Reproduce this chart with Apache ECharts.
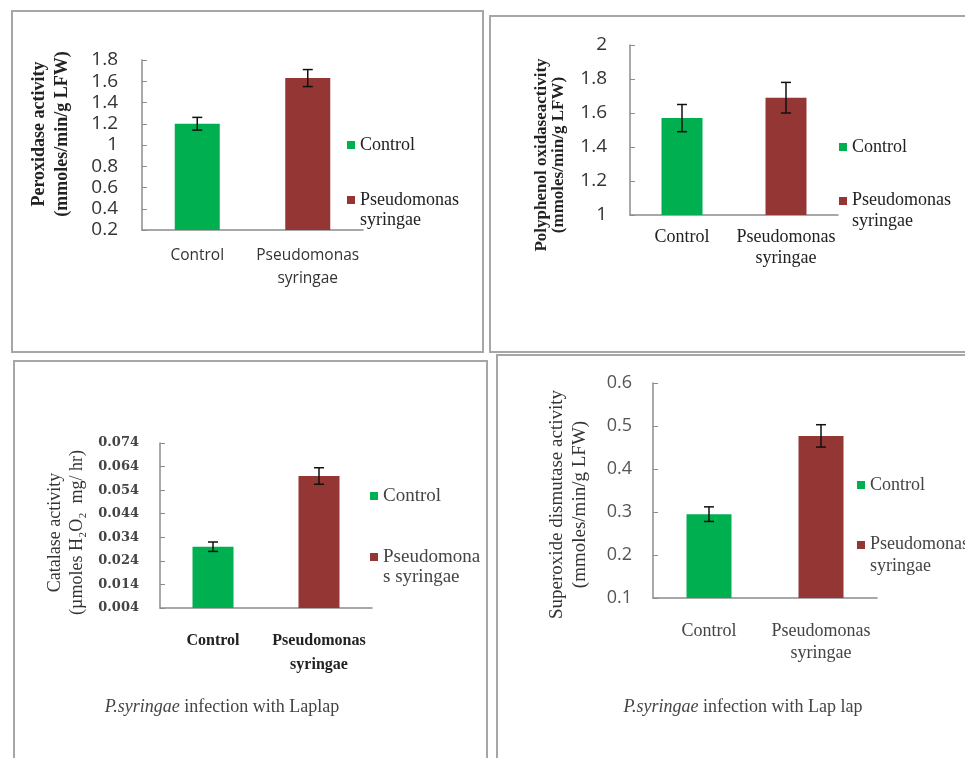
<!DOCTYPE html>
<html>
<head>
<meta charset="utf-8">
<script src="https://cdn.jsdelivr.net/npm/echarts@6/dist/echarts.min.js"></script>
<style>
  html, body { margin: 0; padding: 0; background: #fff; }
  #main { width: 965px; height: 758px; }
</style>
</head>
<body>
<div id="main"></div>
<script>
// categories
var categories = ['Control', 'Pseudomonas syringae'];

// peroxidase (top left)
var peroxMean = [1.20, 1.63];
var peroxErr = [0.06, 0.08];
// polyphenol oxidase (top right)
var ppoMean = [1.57, 1.69];
var ppoErr = [0.08, 0.09];
// catalase (bottom left)
var catMean = [0.030, 0.060];
var catErr = [0.002, 0.0035];
// superoxide dismutase (bottom right)
var sodMean = [0.295, 0.477];
var sodErr = [0.017, 0.026];

var GREEN = '#00b050';
var RED = '#943634';
var serif = '"Liberation Serif", "Times New Roman", serif';
var sans = '"Open Sans", "Liberation Sans", sans-serif';

var chartDom = document.getElementById('main');
var myChart = echarts.init(chartDom);

// icons: square placed inside a 28px tall box so the multi-line label lines up
var iconMid = 'path://M0 0H8 M0 10H8V18H0Z M0 28H8';
var iconTop = 'path://M0 0H8V8H0Z M0 28H8';

// one panel = grid + axes + two bar series + error bars
var panels = [
  { mean: peroxMean, err: peroxErr, grid: { left: 142, top: 60, width: 221, height: 170 },
    min: 0.2, max: 1.8, interval: 0.2, digits: 1, barWidth: 45, tickMargin: 24,
    yName: 'Peroxidase activity\n(mmoles/min/g LFW)', nameGap: 68, namePad: [0, 0, 0, 22],
    nameStyle: { fontFamily: serif, fontWeight: 'bold', fontSize: 18, lineHeight: 23, color: '#222' },
    tickStyle: { fontFamily: sans, fontSize: 19, color: '#333' },
    catStyle: { fontFamily: sans, fontSize: 15.5, lineHeight: 23, color: '#333' }, catMargin: 14,
    legend: { left: 347, c1: 145, c2: 200, size: 18, lh: 20, color: '#222', pseudo: 'Pseudomonas\nsyringae' } },
  { mean: ppoMean, err: ppoErr, grid: { left: 630, top: 45, width: 208, height: 170 },
    min: 1, max: 2, interval: 0.2, digits: 1, barWidth: 41, tickMargin: 23,
    yName: 'Polyphenol oxidaseactivity\n(mmoles/min/g LFW)', nameGap: 63, namePad: [0, 50, 0, 0],
    nameStyle: { fontFamily: serif, fontWeight: 'bold', fontSize: 17, lineHeight: 17, color: '#222' },
    tickStyle: { fontFamily: sans, fontSize: 19, color: '#333' },
    catStyle: { fontFamily: serif, fontSize: 18, lineHeight: 21, color: '#222' }, catMargin: 12,
    legend: { left: 839, c1: 147, c2: 201, size: 18, lh: 21, color: '#222', pseudo: 'Pseudomonas\nsyringae' } },
  { mean: catMean, err: catErr, grid: { left: 160, top: 443, width: 212, height: 165 },
    min: 0.004, max: 0.074, interval: 0.01, digits: 3, barWidth: 41, tickMargin: 21,
    yName: 'Catalase activity\n(\u00b5moles H\u2082O\u2082  mg/ hr)', nameGap: 72, namePad: [0, 14, 0, 0],
    nameStyle: { fontFamily: serif, fontSize: 18, lineHeight: 22, color: '#333' },
    tickStyle: { fontFamily: '"DejaVu Serif", serif', fontSize: 13, fontWeight: 'bold', color: '#444' },
    catStyle: { fontFamily: serif, fontWeight: 'bold', fontSize: 16, lineHeight: 24, color: '#222' }, catMargin: 21,
    legend: { left: 370, c1: 496, c2: 557, size: 19, lh: 20, color: '#444', pseudo: 'Pseudomona\ns syringae' } },
  { mean: sodMean, err: sodErr, grid: { left: 653, top: 383, width: 224, height: 215 },
    min: 0.1, max: 0.6, interval: 0.1, digits: 1, barWidth: 45, tickMargin: 21,
    yName: 'Superoxide dismutase activity\n(mmoles/min/g LFW)', nameGap: 61, namePad: [0, 28, 0, 0],
    nameStyle: { fontFamily: serif, fontSize: 19, lineHeight: 23, color: '#333' },
    tickStyle: { fontFamily: sans, fontSize: 18, color: '#555' },
    catStyle: { fontFamily: serif, fontSize: 18, lineHeight: 22, color: '#444' }, catMargin: 22,
    legend: { left: 857, c1: 485, c2: 545, size: 18, lh: 22, color: '#444', pseudo: 'Pseudomonas\nsyringae' } }
];

var grids = [], xAxes = [], yAxes = [], series = [], legends = [];

panels.forEach(function (p, i) {
  grids.push(p.grid);
  xAxes.push({
    type: 'category', gridIndex: i, data: categories,
    axisLine: { lineStyle: { color: '#8c8c8c', width: 1.5 } },
    axisTick: { inside: true, length: 4, lineStyle: { color: '#8c8c8c' } },
    axisLabel: Object.assign({
      interval: 0, hideOverlap: false,
      margin: p.catMargin,
      formatter: function (v) { return v.replace(' ', '\n'); }
    }, p.catStyle)
  });
  yAxes.push({
    type: 'value', gridIndex: i, min: p.min, max: p.max, interval: p.interval,
    name: p.yName, nameLocation: 'middle', nameRotate: 90, nameGap: p.nameGap,
    nameTextStyle: Object.assign({ padding: p.namePad }, p.nameStyle),
    axisLine: { show: true, lineStyle: { color: '#8c8c8c', width: 1.5 } },
    axisTick: { show: true, inside: true, length: 5, lineStyle: { color: '#8c8c8c' } },
    splitLine: { show: false },
    axisLabel: Object.assign({
      margin: p.tickMargin,
      formatter: function (v) { return p.digits === 3 ? v.toFixed(3) : String(+v.toFixed(1)); }
    }, p.tickStyle)
  });

  series.push({
    name: 'Control', type: 'bar', xAxisIndex: i, yAxisIndex: i,
    barWidth: p.barWidth, barGap: '-100%',
    itemStyle: { color: GREEN },
    data: [p.mean[0], '-']
  });
  series.push({
    name: 'Pseudomonas syringae', type: 'bar', xAxisIndex: i, yAxisIndex: i,
    barWidth: p.barWidth, barGap: '-100%',
    itemStyle: { color: RED },
    data: ['-', p.mean[1]]
  });
  // error bars
  series.push({
    type: 'custom', xAxisIndex: i, yAxisIndex: i, silent: true, z: 10,
    data: p.mean.map(function (m, k) { return [k, m - p.err[k], m + p.err[k]]; }),
    renderItem: function (params, api) {
      var lo = api.coord([api.value(0), api.value(1)]);
      var hi = api.coord([api.value(0), api.value(2)]);
      var w = 5;
      var st = { stroke: '#111', lineWidth: 1.5 };
      return {
        type: 'group',
        children: [
          { type: 'line', shape: { x1: hi[0], y1: hi[1], x2: lo[0], y2: lo[1] }, style: st },
          { type: 'line', shape: { x1: hi[0] - w, y1: hi[1], x2: hi[0] + w, y2: hi[1] }, style: st },
          { type: 'line', shape: { x1: lo[0] - w, y1: lo[1], x2: lo[0] + w, y2: lo[1] }, style: st }
        ]
      };
    }
  });

  var lg = p.legend;
  var ts = { fontFamily: serif, fontSize: lg.size, lineHeight: lg.lh, color: lg.color };
  legends.push({
    left: lg.left, top: lg.c1 - 14, padding: 0, itemWidth: 8, itemHeight: 28,
    selectedMode: false, textStyle: ts,
    data: [{ name: 'Control', icon: iconMid }]
  });
  legends.push({
    left: lg.left, top: lg.c2 - 4 - (lg.lh * 2 - 28) / 2, padding: 0, itemWidth: 8, itemHeight: 28,
    selectedMode: false, textStyle: ts,
    formatter: (function (t) { return function () { return t; }; })(lg.pseudo),
    data: [{ name: 'Pseudomonas syringae', icon: iconTop }]
  });
});

var border = { fill: 'none', stroke: '#a6a6a6', lineWidth: 2 };
var capStyle = {
  fontFamily: serif, fontSize: 18, fill: '#444', align: 'center', verticalAlign: 'middle',
  rich: { i: { fontFamily: serif, fontSize: 18, fontStyle: 'italic', fill: '#444' } }
};

var option = {
  animation: false,
  grid: grids,
  xAxis: xAxes,
  yAxis: yAxes,
  legend: legends,
  series: series,
  graphic: [
    { type: 'rect', shape: { x: 12, y: 11, width: 471, height: 341 }, style: border, silent: true },
    { type: 'rect', shape: { x: 490, y: 16, width: 490, height: 336 }, style: border, silent: true },
    { type: 'rect', shape: { x: 14, y: 361, width: 473, height: 420 }, style: border, silent: true },
    { type: 'rect', shape: { x: 497, y: 355, width: 490, height: 420 }, style: border, silent: true },
    { type: 'text', x: 222, y: 707, style: Object.assign({ text: '{i|P.syringae} infection with Laplap' }, capStyle) },
    { type: 'text', x: 743, y: 707, style: Object.assign({ text: '{i|P.syringae} infection with Lap lap' }, capStyle) }
  ]
};

option && myChart.setOption(option, true);
</script>
</body>
</html>
